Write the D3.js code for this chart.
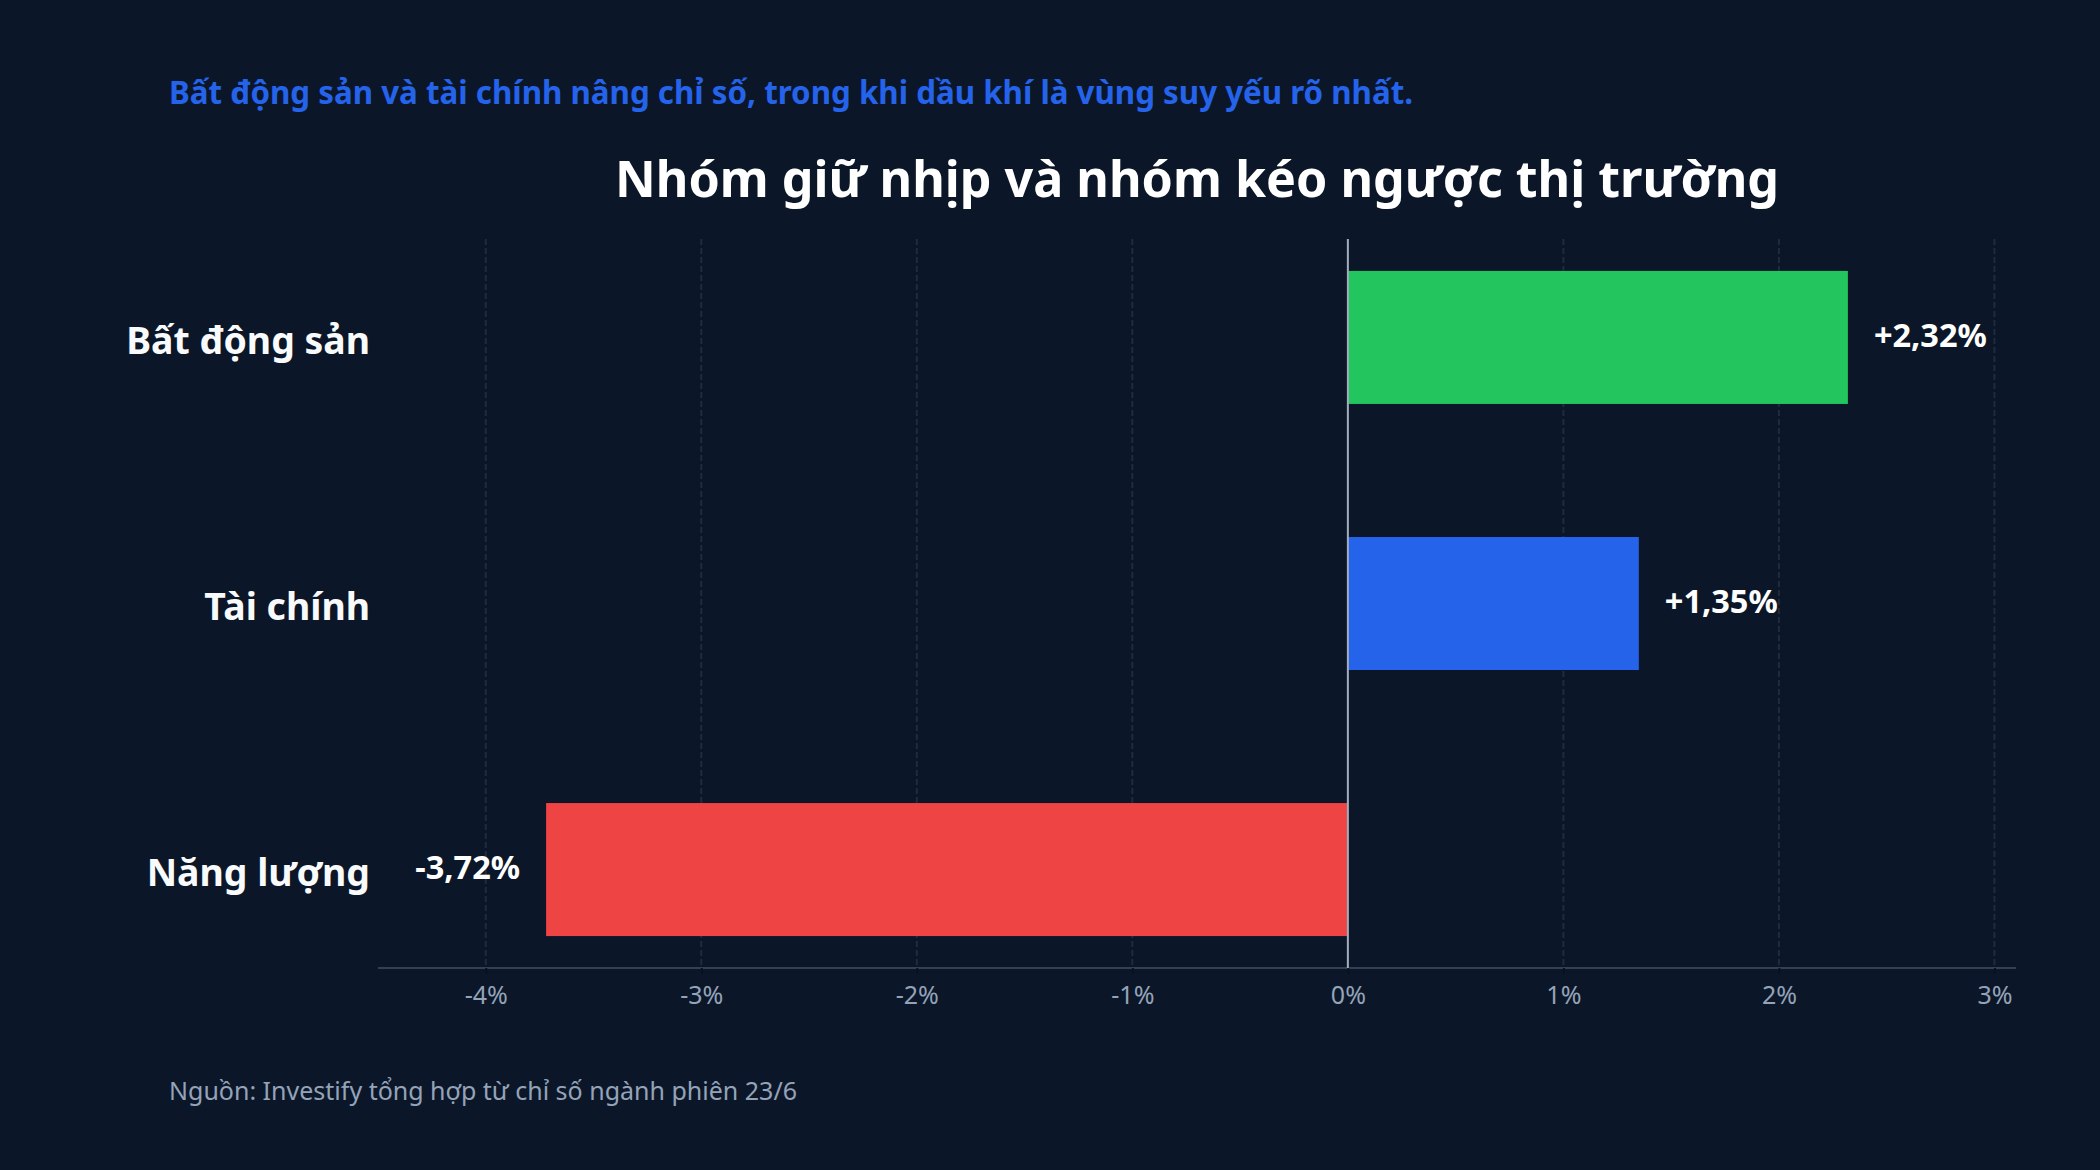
<!DOCTYPE html>
<html>
<head>
<meta charset="utf-8">
<script src="https://cdn.jsdelivr.net/npm/d3@7"></script>
<style>
  html, body { margin: 0; padding: 0; background: #0b1728; }
  svg { display: block; font-family: "Noto Sans", "Open Sans", sans-serif; }
</style>
</head>
<body>
<svg id="chart" width="2100" height="1170"></svg>
<script>
// du lieu
const sectors = ["Bất động sản", "Tài chính", "Năng lượng"];
const changes = [2.32, 1.35, -3.72];
const bar_colors = ["#22c55e", "#2563eb", "#ef4444"];
const tick_values = [-4, -3, -2, -1, 0, 1, 2, 3];
const x_domain = [-4.5, 3.1];

const subtitle = "Bất động sản và tài chính nâng chỉ số, trong khi dầu khí là vùng suy yếu rõ nhất.";
const title = "Nhóm giữ nhịp và nhóm kéo ngược thị trường";
const source_note = "Nguồn: Investify tổng hợp từ chỉ số ngành phiên 23/6";

const W = 2100, H = 1170;
const margin = {top: 239, right: 84, bottom: 202, left: 378};

const svg = d3.select("#chart");
svg.append("rect").attr("width", W).attr("height", H).attr("fill", "#0b1728");

const x = d3.scaleLinear().domain(x_domain).range([margin.left, W - margin.right]);
const y = d3.scaleBand().domain(sectors)
    .range([margin.top, H - margin.bottom])
    .paddingInner(0.5).paddingOuter(0.12);

const data = sectors.map((s, i) => ({sector: s, value: changes[i], color: bar_colors[i]}));

// luoi doc
svg.append("g")
    .selectAll("line")
    .data(tick_values.filter(d => d != 0))
    .enter()
    .append("line")
    .attr("x1", d => x(d)).attr("x2", d => x(d))
    .attr("y1", margin.top).attr("y2", H - margin.bottom)
    .attr("stroke", "#1f2b3e")
    .attr("stroke-width", 2)
    .attr("stroke-dasharray", "6,3");

// truc x
const x_axis = svg.append("g")
    .attr("transform", "translate(0," + (H - margin.bottom) + ")")
    .call(d3.axisBottom(x).tickValues(tick_values).tickFormat(d => d + "%").tickSize(6).tickPadding(12).tickSizeOuter(0));
x_axis.select(".domain").attr("stroke", "#334155").attr("stroke-width", 2)
    .attr("d", "M" + margin.left + ",0H" + (W - margin.right));
x_axis.selectAll(".tick line").attr("stroke", "#0a111d").attr("stroke-width", 2);
x_axis.selectAll(".tick text")
    .attr("fill", "#94a3b8")
    .style("font-size", "25px")
    .style("font-family", "'Noto Sans', sans-serif");

// cot
svg.append("g")
    .selectAll("rect")
    .data(data)
    .enter()
    .append("rect")
    .attr("x", d => x(Math.min(0, d.value)))
    .attr("width", d => Math.abs(x(d.value) - x(0)))
    .attr("y", d => y(d.sector))
    .attr("height", y.bandwidth())
    .attr("fill", d => d.color);

// duong 0
svg.append("line")
    .attr("x1", x(0)).attr("x2", x(0))
    .attr("y1", margin.top).attr("y2", H - margin.bottom)
    .attr("stroke", "#a3adbb")
    .attr("stroke-width", 2);

// nhan gia tri
svg.append("g")
    .selectAll("text")
    .data(data)
    .enter()
    .append("text")
    .attr("x", d => d.value >= 0 ? x(d.value) + 26 : x(d.value) - 26)
    .attr("y", d => y(d.sector) + y.bandwidth() / 2)
    .attr("dy", "0.28em")
    .attr("text-anchor", d => d.value >= 0 ? "start" : "end")
    .attr("fill", "#ffffff")
    .style("font-size", "32.5px")
    .style("font-weight", "700")
    .text(d => (d.value > 0 ? "+" : "") + d.value.toFixed(2).replace(".", ",") + "%");

// nhan nganh
svg.append("g")
    .selectAll("text")
    .data(data)
    .enter()
    .append("text")
    .attr("x", 370)
    .attr("y", d => y(d.sector) + y.bandwidth() / 2)
    .attr("dy", "0.44em")
    .attr("text-anchor", "end")
    .attr("fill", "#f8fafc")
    .style("font-size", "37.4px")
    .style("font-weight", "700")
    .text(d => d.sector);

// tieu de
svg.append("text")
    .attr("x", 169).attr("y", 104)
    .attr("fill", "#2563eb")
    .style("font-size", "31.3px")
    .style("font-weight", "700")
    .text(subtitle);

svg.append("text")
    .attr("x", (margin.left + W - margin.right) / 2).attr("y", 197)
    .attr("text-anchor", "middle")
    .attr("fill", "#ffffff")
    .style("font-size", "50.2px")
    .style("font-weight", "700")
    .text(title);

svg.append("text")
    .attr("x", 169).attr("y", 1100)
    .attr("fill", "#94a3b8")
    .style("font-size", "25px")
    .text(source_note);
</script>
</body>
</html>
